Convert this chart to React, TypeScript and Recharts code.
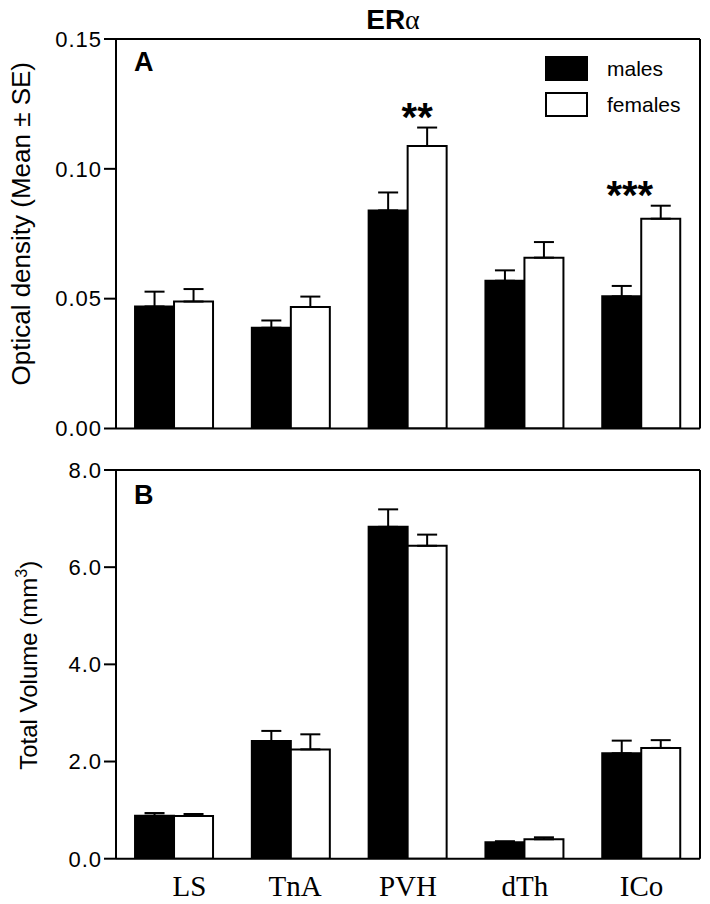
import React from "react";
import {
  BarChart,
  Bar,
  XAxis,
  YAxis,
  ErrorBar,
  ReferenceLine,
  Legend,
  LabelList,
} from "recharts";

// ---------- data ----------
const categories = ["LS", "TnA", "PVH", "dTh", "ICo"];
const seriesNames = ["males", "females"];

// Panel A: optical density
const malesDensity = [0.047, 0.0388, 0.084, 0.0569, 0.0509];
const malesDensityErr = [0.0057, 0.0028, 0.0069, 0.004, 0.004];
const femalesDensity = [0.0489, 0.0468, 0.1088, 0.0658, 0.0808];
const femalesDensityErr = [0.0048, 0.004, 0.0071, 0.006, 0.005];
const significance = ["", "", "**", "", "***"];

// Panel B: total volume (mm3)
const malesVolume = [0.885, 2.42, 6.83, 0.34, 2.17];
const malesVolumeErr = [0.055, 0.21, 0.36, 0.02, 0.26];
const femalesVolume = [0.88, 2.25, 6.44, 0.4, 2.28];
const femalesVolumeErr = [0.04, 0.31, 0.23, 0.04, 0.16];

const densityTicks = [0, 0.05, 0.1, 0.15];
const volumeTicks = [0, 2, 4, 6, 8];

const rowsA = categories.map((cat, i) => ({
  cat,
  males: malesDensity[i],
  females: femalesDensity[i],
  malesErr: [0, malesDensityErr[i]],
  femalesErr: [0, femalesDensityErr[i]],
  sig: significance[i],
}));

const rowsB = categories.map((cat, i) => ({
  cat,
  males: malesVolume[i],
  females: femalesVolume[i],
  malesErr: [0, malesVolumeErr[i]],
  femalesErr: [0, femalesVolumeErr[i]],
}));

// ---------- style ----------
const SANS = "'Liberation Sans', Arial, Helvetica, sans-serif";
const SERIF = "'Liberation Serif', 'Times New Roman', serif";
const sigNudge: Record<string, number> = { PVH: -10, ICo: -31 };
const xTickNudge: Record<string, number> = { LS: 15, TnA: 4 };

const tickStyle = { fill: "#000", fontSize: 22, fontFamily: SANS, letterSpacing: 1 };
const axisLine = { stroke: "#000", strokeWidth: 2 };

const SigLabel = (props: any) => {
  const { x, y, width, height, index, value } = props;
  if (!value) return null;
  const v = femalesDensity[index];
  const e = femalesDensityErr[index];
  const pxPerUnit = Number(height) / v;
  const errTop = Number(y) - e * pxPerUnit;
  const cx = Number(x) + Number(width) / 2 + (sigNudge[categories[index]] || 0);
  return (
    <text
      x={cx}
      y={errTop + 3}
      textAnchor="middle"
      fontSize={40}
      fontWeight="bold"
      fontFamily={SANS}
      fill="#000"
    >
      {value}
    </text>
  );
};

const YLabelA = (props: any) => {
  const vb = props.viewBox || { x: 0, y: 0, width: 0, height: 0 };
  const cy = vb.y + vb.height / 2 - 10;
  return (
    <text
      transform={`translate(29.5, ${cy}) rotate(-90)`}
      textAnchor="middle"
      fontSize={26}
      fontFamily={SANS}
      fill="#000"
    >
      Optical density (Mean ± SE)
    </text>
  );
};

const YLabelB = (props: any) => {
  const vb = props.viewBox || { x: 0, y: 0, width: 0, height: 0 };
  const cy = vb.y + vb.height / 2 + 1;
  return (
    <text
      transform={`translate(36.5, ${cy}) rotate(-90)`}
      textAnchor="middle"
      fontSize={24}
      fontFamily={SANS}
      fill="#000"
    >
      Total Volume (mm
      <tspan fontSize={16} dy={-10}>
        3
      </tspan>
      <tspan dy={10}>)</tspan>
    </text>
  );
};

const XTickB = (props: any) => {
  const { x, y, payload } = props;
  const label = payload.value as string;
  return (
    <text
      x={Number(x) + (xTickNudge[label] || 0)}
      y={Number(y) + 37}
      textAnchor="middle"
      fontSize={29}
      fontFamily={SERIF}
      fill="#000"
    >
      {label}
    </text>
  );
};

const LegendContent = (props: any) => {
  const payload = [...(props.payload || [])].sort(
    (a: any, b: any) => seriesNames.indexOf(a.value) - seriesNames.indexOf(b.value)
  );
  return (
    <div style={{ display: "flex", flexDirection: "column", gap: 11.6 }}>
      {payload.map((entry: any) => (
        <div
          key={entry.value}
          style={{ display: "flex", alignItems: "center", height: 25 }}
        >
          <div
            style={{
              width: 43,
              height: 25,
              boxSizing: "border-box",
              border: "2px solid #000",
              background: entry.color,
            }}
          />
          <span
            style={{
              marginLeft: 19,
              fontSize: 21,
              fontFamily: SANS,
              color: "#000",
              lineHeight: "25px",
            }}
          >
            {entry.value}
          </span>
        </div>
      ))}
    </div>
  );
};

export default function App() {
  return (
    <div
      style={{
        position: "absolute",
        left: 0,
        top: 0,
        width: 710,
        height: 904,
        background: "#fff",
        overflow: "hidden",
      }}
    >
      <div style={{ position: "absolute", left: 0, top: 0 }}>
        <BarChart
          width={710}
          height={440}
          data={rowsA}
          margin={{ top: 39, right: 10, left: 0, bottom: 0 }}
          barCategoryGap="16.3%"
          barGap={0}
        >
          <XAxis
            dataKey="cat"
            tick={false}
            tickLine={false}
            axisLine={axisLine}
            height={11.5}
          />
          <YAxis
            width={116}
            domain={[0, 0.15]}
            ticks={densityTicks}
            interval={0}
            tickFormatter={(v: number) => v.toFixed(2)}
            tick={tickStyle}
            tickSize={12}
            tickMargin={2}
            tickLine={axisLine}
            axisLine={axisLine}
            allowDataOverflow
            label={<YLabelA />}
          />
          <ReferenceLine y={0.15} stroke="#000" strokeWidth={2} />
          <ReferenceLine x="ICo" position="end" stroke="#000" strokeWidth={2} />
          <Legend
            layout="vertical"
            align="center"
            verticalAlign="middle"
            content={<LegendContent />}
            wrapperStyle={{ left: 545, top: 55.7, width: 160, height: 62 }}
          />
          <Bar
            dataKey="males"
            name="males"
            fill="#000"
            stroke="#000"
            strokeWidth={2}
            isAnimationActive={false}
          >
            <ErrorBar dataKey="malesErr" width={10} stroke="#000" strokeWidth={2} direction="y" />
          </Bar>
          <Bar
            dataKey="females"
            name="females"
            fill="#fff"
            stroke="#000"
            strokeWidth={2}
            isAnimationActive={false}
          >
            <ErrorBar dataKey="femalesErr" width={10} stroke="#000" strokeWidth={2} direction="y" />
            <LabelList dataKey="sig" content={<SigLabel />} />
          </Bar>
        </BarChart>
      </div>

      <div style={{ position: "absolute", left: 0, top: 440 }}>
        <BarChart
          width={710}
          height={464}
          data={rowsB}
          margin={{ top: 30, right: 10, left: 0, bottom: 0 }}
          barCategoryGap="16.3%"
          barGap={0}
        >
          <XAxis
            dataKey="cat"
            tick={<XTickB />}
            tickLine={false}
            tickSize={0}
            tickMargin={0}
            axisLine={axisLine}
            height={45.3}
            interval={0}
          />
          <YAxis
            width={116}
            domain={[0, 8]}
            ticks={volumeTicks}
            interval={0}
            tickFormatter={(v: number) => v.toFixed(1)}
            tick={tickStyle}
            tickSize={12}
            tickMargin={2}
            tickLine={axisLine}
            axisLine={axisLine}
            allowDataOverflow
            label={<YLabelB />}
          />
          <ReferenceLine y={8} stroke="#000" strokeWidth={2} />
          <ReferenceLine x="ICo" position="end" stroke="#000" strokeWidth={2} />
          <Bar
            dataKey="males"
            name="males"
            fill="#000"
            stroke="#000"
            strokeWidth={2}
            isAnimationActive={false}
          >
            <ErrorBar dataKey="malesErr" width={10} stroke="#000" strokeWidth={2} direction="y" />
          </Bar>
          <Bar
            dataKey="females"
            name="females"
            fill="#fff"
            stroke="#000"
            strokeWidth={2}
            isAnimationActive={false}
          >
            <ErrorBar dataKey="femalesErr" width={10} stroke="#000" strokeWidth={2} direction="y" />
          </Bar>
        </BarChart>
      </div>

      <svg
        width={710}
        height={904}
        style={{ position: "absolute", left: 0, top: 0, pointerEvents: "none" }}
      >
        <text x={393} y={29} textAnchor="middle" fontSize={28} fontWeight="bold" fontFamily={SANS} fill="#000">
          ER
          <tspan fontFamily={SERIF} fontWeight="normal">
            α
          </tspan>
        </text>
        <text x={134} y={71} fontSize={27} fontWeight="bold" fontFamily={SANS} fill="#000">
          A
        </text>
        <text x={134} y={504} fontSize={27} fontWeight="bold" fontFamily={SANS} fill="#000">
          B
        </text>
      </svg>
    </div>
  );
}
